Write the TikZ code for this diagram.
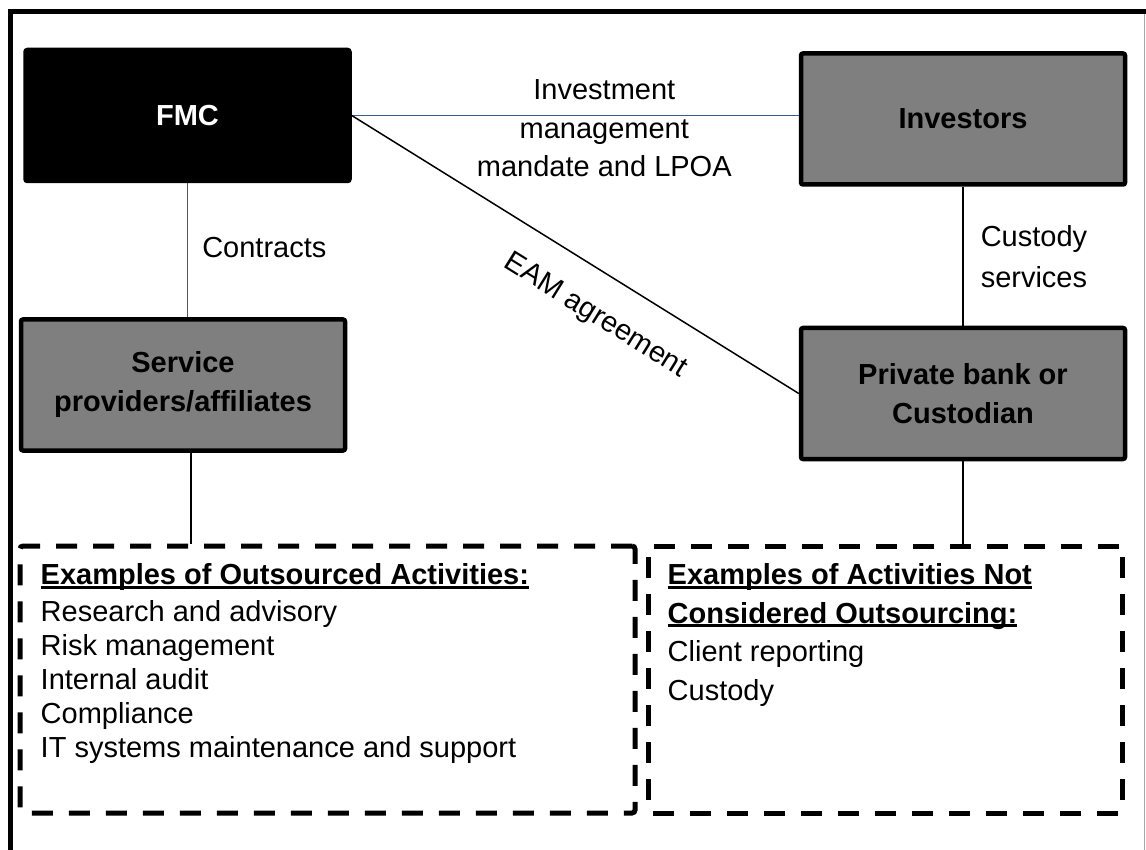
\documentclass[tikz,border=0pt]{standalone}
\usepackage{fontspec}
\setmainfont{Liberation Sans}
\definecolor{linkblue}{RGB}{56,93,138}
\definecolor{boxgray}{RGB}{127,127,127}
\newcommand\undl[1]{\setbox0\hbox{#1}\rlap{\rule[-4pt]{\wd0}{2.8pt}}\box0}
\begin{document}
\begin{tikzpicture}[x=1pt,y=-1pt,
  party/.style={draw=black,line width=4.5pt,fill=boxgray,rounded corners=2pt,minimum width=324pt,minimum height=131pt,align=center,font=\fontsize{29}{39}\selectfont\bfseries},
  firm/.style={party,fill=black,text=white},
  bluelink/.style={draw=linkblue,line width=1.5pt},
  blacklink/.style={draw=black,line width=1.5pt},
  dashbox/.style={draw=black,line width=5pt,dash pattern=on 21pt off 16pt,rounded corners=3pt,inner sep=0pt},
  lbl/.style={inner sep=0pt,font=\fontsize{29}{38.5}\selectfont},
  borderline/.style={draw=black,line width=5pt}]
\useasboundingbox (0,0) rectangle (1146,850);
\draw[borderline] (10,850) -- (10,11.5) -- (1146,11.5);
\draw[black!35,line width=1pt] (1144.5,14) -- (1144.5,850);
\node[firm] (fmc) at (187.5,115.5) {FMC};
\node[party] (inv) at (963,119) {Investors};
\node[party] (svc) at (183,385) {Service\\providers/affiliates};
\node[party] (pbc) at (963,393.5) {Private bank or\\Custodian};
\node[dashbox,minimum width=615pt,minimum height=267pt] (outs) at (327.5,679.5) {};
\node[dashbox,minimum width=474pt,minimum height=267pt] (notouts) at (885,679.5) {};
\draw[bluelink] (fmc.south) -- (fmc.south |- svc.north)
  node[lbl,midway,right=14pt,yshift=3pt] {Contracts};
\draw[bluelink] (fmc.east) -- (fmc.east -| inv.west)
  node[lbl,pos=0.565,yshift=-13pt,align=center] {Investment\\management\\mandate and LPOA};
\draw[blacklink] (fmc.east) -- (pbc.west)
  node[lbl,pos=0.594,sloped,below=28pt] {EAM agreement};
\draw[blacklink] (inv.south) -- (pbc.north)
  node[lbl,midway,right=17pt,align=left,font=\fontsize{29}{41}\selectfont] {Custody\\services};
\draw[blacklink] ([xshift=8pt]svc.south) -- ([xshift=8pt]svc.south |- outs.north);
\draw[blacklink] (pbc.south) -- (pbc.south |- notouts.north);
\node[lbl,anchor=north west,align=left,font=\fontsize{29}{34}\selectfont] (outstext) at ([xshift=23pt,yshift=-20pt]outs.north west)
  {\undl{\bfseries Examples of Outsourced Activities:}\\[3pt]
   Research and advisory\\Risk management\\Internal audit\\Compliance\\IT systems maintenance and support};
\node[lbl,anchor=north west,align=left] (notoutstext) at ([xshift=22pt,yshift=-20pt]notouts.north west)
  {\undl{\bfseries Examples of Activities Not}\\\undl{\bfseries Considered Outsourcing:}\\
   Client reporting\\Custody};
\end{tikzpicture}
\end{document}
